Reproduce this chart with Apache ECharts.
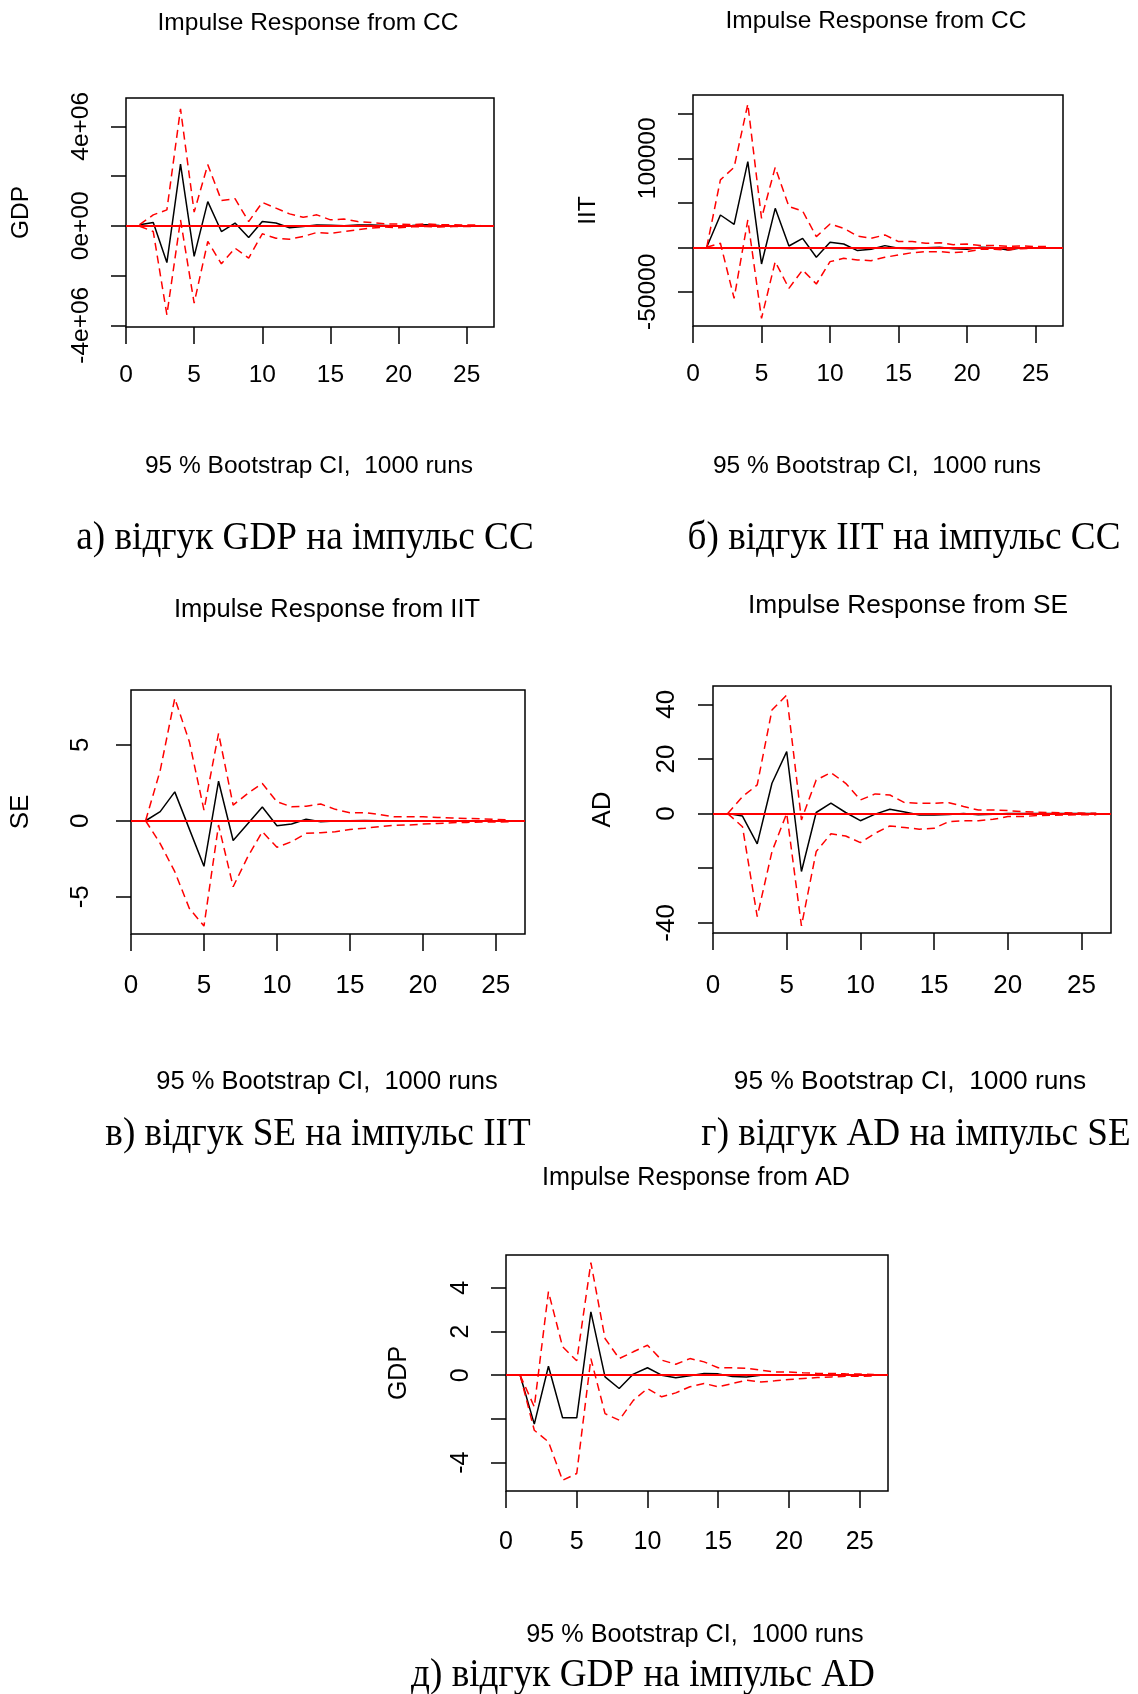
<!DOCTYPE html>
<html>
<head>
<meta charset="utf-8">
<script src="https://cdn.jsdelivr.net/npm/echarts@6/dist/echarts.min.js"></script>
<style>
html,body{margin:0;padding:0;background:#fff;}
#chart{width:1138px;height:1694px;}
</style>
</head>
<body>
<div id="chart"></div>
<script>
// ---------- data ----------
const horizon = [1,2,3,4,5,6,7,8,9,10,11,12,13,14,15,16,17,18,19,20,21,22,23,24,25,26];
const xTickValues = [0,5,10,15,20,25];

// а) GDP response to CC impulse
const gdpCC_resp  = [40000,130000,-1480000,2480000,-1230000,970000,-230000,110000,-470000,170000,110000,-80000,-30000,30000,20000,0,30000,30000,10000,-10000,10000,40000,10000,0,-10000,0];
const gdpCC_upper = [50000,440000,640000,4700000,550000,2460000,1020000,1090000,170000,940000,710000,480000,340000,440000,240000,270000,170000,130000,80000,70000,50000,80000,40000,40000,30000,30000];
const gdpCC_lower = [-20000,-230000,-3580000,240000,-3110000,-630000,-1530000,-900000,-1300000,-320000,-500000,-540000,-430000,-270000,-300000,-230000,-160000,-90000,-50000,-80000,-40000,-30000,-50000,-30000,-30000,-10000];
const gdpCC_yTicks = [-4000000,-2000000,0,2000000,4000000];
const gdpCC_yLabelValues = [-4000000,0,4000000];
const gdpCC_yLabels = ['-4e+06','0e+00','4e+06'];

// б) IIT response to CC impulse
const iitCC_resp  = [0,36300,25800,96300,-18700,43800,1500,10100,-11200,5600,3700,-3700,-2200,1900,-1100,-1500,-400,0,-1500,-2200,0,-500,-3000,-500,-500,-500];
const iitCC_upper = [0,75700,89900,161000,32600,89900,45700,40800,12000,26200,21300,12700,10100,13900,6400,6400,4500,5200,3000,3700,1900,1900,1100,1500,800,800];
const iitCC_lower = [0,4500,-57300,30700,-79800,-16100,-46100,-25500,-41200,-16100,-12400,-14200,-15000,-11200,-8600,-6000,-4900,-4900,-6000,-4900,-2200,-2200,-3000,-1500,-1100,-1100];
const iitCC_yTicks = [-50000,0,50000,100000,150000];
const iitCC_yLabelValues = [-50000,100000];
const iitCC_yLabels = ['-50000','100000'];

// в) SE response to IIT impulse
const seIIT_resp  = [0,0.6,1.9,-0.55,-3.0,2.6,-1.3,-0.2,0.9,-0.33,-0.22,0.1,-0.07,-0.02,0,0.02,0,-0.01,0,0,0,0,0,0,0,0];
const seIIT_upper = [0,3.3,8.05,5.2,0.7,5.75,1.03,1.8,2.45,1.25,0.92,0.96,1.1,0.75,0.53,0.53,0.42,0.26,0.26,0.26,0.22,0.18,0.15,0.13,0.09,0.05];
const seIIT_lower = [0,-1.5,-3.35,-5.77,-6.93,-0.28,-4.34,-2.37,-0.72,-1.75,-1.38,-0.83,-0.79,-0.72,-0.57,-0.5,-0.39,-0.31,-0.28,-0.22,-0.18,-0.13,-0.11,-0.09,-0.09,-0.07];
const seIIT_yTicks = [-5,0,5];
const seIIT_yLabelValues = [-5,0,5];
const seIIT_yLabels = ['-5','0','5'];

// г) AD response to SE impulse
const adSE_resp  = [0,-0.9,-11.1,11.1,22.7,-21.2,0.4,3.8,0.4,-2.6,-0.2,1.6,0.6,-0.5,-0.5,-0.3,0,-0.4,-0.2,0,0,0,0,0,0,0];
const adSE_upper = [0,6.2,10.5,37.9,43.4,-2.3,12.3,15,11.1,5,7.2,6.8,4,3.8,3.8,4,2.6,1.3,1.3,1.1,0.7,0.5,0.4,0.3,0.2,0.1];
const adSE_lower = [0,-4.8,-37.7,-13.9,0.1,-41.1,-13.9,-7.4,-8.2,-10.6,-7.2,-4.5,-5.1,-5.7,-5.4,-2.9,-2.6,-2.6,-2.1,-1.1,-1.1,-0.7,-0.6,-0.5,-0.4,-0.4];
const adSE_yTicks = [-40,-20,0,20,40];
const adSE_yLabelValues = [-40,0,20,40];
const adSE_yLabels = ['-40','0','20','40'];

// д) GDP response to AD impulse
const gdpAD_resp  = [0,-2.24,0.41,-1.95,-1.95,2.9,-0.08,-0.61,0.05,0.34,0,-0.12,-0.03,0.08,0.06,-0.06,-0.08,0,0.02,0,0,0,0,0,0,0];
const gdpAD_upper = [0,-1.45,3.82,1.3,0.66,5.15,1.68,0.76,1.07,1.37,0.69,0.5,0.76,0.61,0.34,0.34,0.31,0.23,0.15,0.15,0.11,0.08,0.08,0.06,0.05,0.03];
const gdpAD_lower = [0,-2.52,-3.05,-4.81,-4.5,0.76,-1.76,-2.06,-1.15,-0.61,-0.99,-0.81,-0.53,-0.38,-0.53,-0.38,-0.23,-0.31,-0.26,-0.2,-0.15,-0.11,-0.08,-0.05,-0.05,-0.03];
const gdpAD_yTicks = [-4,-2,0,2,4];
const gdpAD_yLabelValues = [-4,0,2,4];
const gdpAD_yLabels = ['-4','0','2','4'];

const titles = ['Impulse Response from CC','Impulse Response from CC','Impulse Response from IIT','Impulse Response from SE','Impulse Response from AD'];
const subtitle = '95 % Bootstrap CI,  1000 runs';
const yNames = ['GDP','IIT','SE','AD','GDP'];
const captions = ['а) відгук GDP на імпульс CC','б) відгук IIT на імпульс CC','в) відгук SE на імпульс IIT','г) відгук AD на імпульс SE','д) відгук GDP на імпульс AD'];

// ---------- layout (styles / positions) ----------
const layout = [
  {grid:{left:126,top:98,width:368,height:229}, yMin:-4070000, yMax:5140000, fs:24.5, tfs:24.5, xMargin:36, yMargin:32, nameGap:92, titleXY:[308,23], subXY:[309,466], capXY:[305,538]},
  {grid:{left:693,top:95,width:370,height:231}, yMin:-88400, yMax:171100, fs:24.5, tfs:24.5, xMargin:36, yMargin:32, nameGap:92, titleXY:[876,21], subXY:[877,466], capXY:[904,538]},
  {grid:{left:131,top:690,width:394,height:244}, yMin:-7.45, yMax:8.6, fs:26, tfs:25.5, xMargin:39, yMargin:37, nameGap:97, titleXY:[327,610], subXY:[327,1082], capXY:[318,1134]},
  {grid:{left:713,top:686,width:398,height:247}, yMin:-43.7, yMax:46.7, fs:26, tfs:26.3, xMargin:40, yMargin:33, nameGap:97, titleXY:[908,606], subXY:[910,1082], capXY:[916,1134]},
  {grid:{left:506,top:1255,width:382,height:236}, yMin:-5.3, yMax:5.5, fs:25, tfs:25.2, xMargin:39, yMargin:32, nameGap:94, titleXY:[696,1178], subXY:[695,1635], capXY:[643,1675]}
];

const panelData = [
  {resp:gdpCC_resp, upper:gdpCC_upper, lower:gdpCC_lower, yTicks:gdpCC_yTicks, yLabVals:gdpCC_yLabelValues, yLabs:gdpCC_yLabels},
  {resp:iitCC_resp, upper:iitCC_upper, lower:iitCC_lower, yTicks:iitCC_yTicks, yLabVals:iitCC_yLabelValues, yLabs:iitCC_yLabels},
  {resp:seIIT_resp, upper:seIIT_upper, lower:seIIT_lower, yTicks:seIIT_yTicks, yLabVals:seIIT_yLabelValues, yLabs:seIIT_yLabels},
  {resp:adSE_resp, upper:adSE_upper, lower:adSE_lower, yTicks:adSE_yTicks, yLabVals:adSE_yLabelValues, yLabs:adSE_yLabels},
  {resp:gdpAD_resp, upper:gdpAD_upper, lower:gdpAD_lower, yTicks:gdpAD_yTicks, yLabVals:gdpAD_yLabelValues, yLabs:gdpAD_yLabels}
];

const SANS = "'Liberation Sans', Arial, sans-serif";
const SERIF = "'Liberation Serif', 'Times New Roman', serif";
const pairs = arr => arr.map((v, i) => [horizon[i], v]);

const grids = [], xAxes = [], yAxes = [], series = [], graphics = [];

panelData.forEach((p, i) => {
  const L = layout[i];
  grids.push(Object.assign({show:true, borderColor:'#000', borderWidth:1.5, backgroundColor:'transparent', containLabel:false}, L.grid));
  xAxes.push({
    gridIndex:i, type:'value', min:0, max:27, position:'bottom',
    axisLine:{show:false, onZero:false}, splitLine:{show:false},
    axisTick:{show:true, inside:false, length:17, customValues:xTickValues, lineStyle:{color:'#000', width:1.5}},
    axisLabel:{show:true, customValues:xTickValues, margin:L.xMargin, color:'#000', fontSize:L.fs, fontFamily:SANS}
  });
  yAxes.push({
    gridIndex:i, type:'value', min:L.yMin, max:L.yMax, position:'left',
    axisLine:{show:false, onZero:false}, splitLine:{show:false},
    axisTick:{show:true, inside:false, length:15, customValues:p.yTicks, lineStyle:{color:'#000', width:1.5}},
    axisLabel:{show:true, rotate:90, margin:L.yMargin, customValues:p.yLabVals, color:'#000', fontSize:L.fs, fontFamily:SANS,
      formatter: v => { const k = p.yLabVals.findIndex(t => Math.abs(t - v) < 1e-9 * Math.max(1, Math.abs(t))); return k >= 0 ? p.yLabs[k] : ''; }},
    name:yNames[i], nameLocation:'middle', nameRotate:90, nameGap:L.nameGap,
    nameTextStyle:{color:'#000', fontSize:L.fs, fontFamily:SANS}
  });
  series.push({type:'line', xAxisIndex:i, yAxisIndex:i, data:pairs(p.resp), symbol:'none', showSymbol:false, silent:true,
    lineStyle:{color:'#000', width:1.5}});
  series.push({type:'line', xAxisIndex:i, yAxisIndex:i, data:pairs(p.lower), symbol:'none', showSymbol:false, silent:true,
    lineStyle:{color:'#ff0000', width:1.5, type:[8,5]}});
  series.push({type:'line', xAxisIndex:i, yAxisIndex:i, data:pairs(p.upper), symbol:'none', showSymbol:false, silent:true,
    lineStyle:{color:'#ff0000', width:1.5, type:[8,5]},
    markLine:{silent:true, symbol:['none','none'], label:{show:false}, animation:false,
      lineStyle:{color:'#ff0000', type:'solid', width:1.8}, data:[{yAxis:0}]}});

  graphics.push({type:'text', x:L.titleXY[0], y:L.titleXY[1],
    style:{text:titles[i], fill:'#000', fontSize:L.tfs, fontFamily:SANS, align:'center', verticalAlign:'middle', textAlign:'center', textVerticalAlign:'middle'}});
  graphics.push({type:'text', x:L.subXY[0], y:L.subXY[1],
    style:{text:subtitle, fill:'#000', fontSize:L.tfs, fontFamily:SANS, align:'center', verticalAlign:'middle', textAlign:'center', textVerticalAlign:'middle'}});
  graphics.push({type:'text', x:L.capXY[0], y:L.capXY[1], scaleX:0.93,
    style:{text:captions[i], fill:'#000', fontSize:40, fontFamily:SERIF, align:'center', verticalAlign:'middle', textAlign:'center', textVerticalAlign:'middle'}});
});

const chart = echarts.init(document.getElementById('chart'), null, {renderer:'canvas'});
chart.setOption({
  animation:false,
  backgroundColor:'#fff',
  grid:grids, xAxis:xAxes, yAxis:yAxes, series:series,
  graphic:{elements:graphics}
});
</script>
</body>
</html>
